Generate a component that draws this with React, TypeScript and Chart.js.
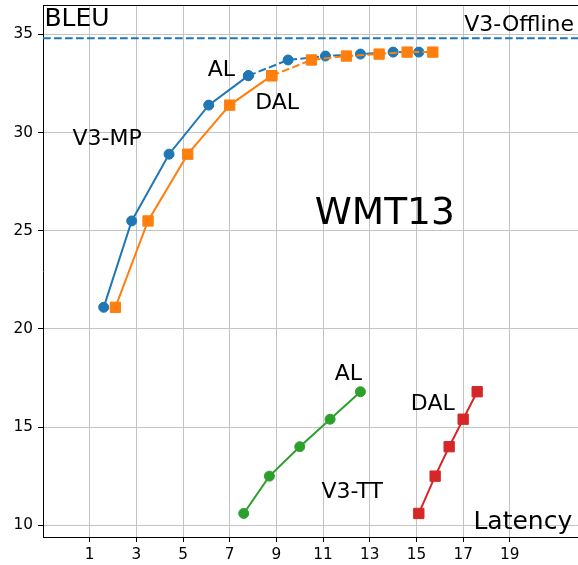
import React, { useEffect, useRef } from 'react';
import { Chart, registerables } from 'chart.js';

Chart.register(...registerables);

// V3-MP (top curves)
const mpAlX = [1.6, 2.8, 4.4, 6.1, 7.8, 9.5, 11.1, 12.6, 14.0, 15.1];
const mpAlY = [21.1, 25.5, 28.9, 31.4, 32.9, 33.7, 33.9, 34.0, 34.1, 34.1];
const mpDalX = [2.1, 3.5, 5.2, 7.0, 8.8, 10.5, 12.0, 13.4, 14.6, 15.7];
const mpDalY = [21.1, 25.5, 28.9, 31.4, 32.9, 33.7, 33.9, 34.0, 34.1, 34.1];
const solidCount = 5; // points drawn with solid line, then dashed

// V3-TT (bottom curves)
const ttAlX = [7.6, 8.7, 10.0, 11.3, 12.6];
const ttAlY = [10.6, 12.5, 14.0, 15.4, 16.8];
const ttDalX = [15.1, 15.8, 16.4, 17.0, 17.6];
const ttDalY = [10.6, 12.5, 14.0, 15.4, 16.8];

// V3-Offline reference
const offlineBleu = 34.8;

// axes
const xTicks = [1, 3, 5, 7, 9, 11, 13, 15, 17, 19];
const yTicks = [10, 15, 20, 25, 30, 35];
const xMin = -1;
const xMax = 21.92;
const yMin = 9.4;
const yMax = 36.5;

// annotations (data coordinates, left/baseline)
const annoText = ['BLEU', 'V3-Offline', 'AL', 'DAL', 'V3-MP', 'WMT13', 'AL', 'DAL', 'V3-TT', 'Latency'];
const annoX = [-0.94, 17.05, 6.06, 8.09, 0.26, 10.64, 11.5, 14.76, 10.93, 17.44];
const annoY = [35.41, 35.17, 32.86, 31.22, 29.35, 25.36, 17.42, 15.89, 11.39, 9.83];
const annoSize = [25, 22, 22, 22, 22, 37.5, 22, 22, 22, 25];

const BLUE = '#1f77b4';
const ORANGE = '#ff7f0e';
const GREEN = '#2ca02c';
const RED = '#d62728';
const FONT = '"DejaVu Sans", sans-serif';

const pts = (xs: number[], ys: number[], from = 0, to = xs.length) =>
  xs.slice(from, to).map((x, i) => ({ x, y: ys[from + i] }));

const DASH = [7.7, 3.3];

export default function App() {
  const ref = useRef<HTMLCanvasElement | null>(null);

  useEffect(() => {
    document.body.style.margin = '0';
    const canvas = ref.current;
    if (!canvas) return;

    const series = (
      data: { x: number; y: number }[],
      color: string,
      style: 'circle' | 'rect',
      dashed: boolean,
      order: number
    ) => ({
      data,
      borderColor: color,
      backgroundColor: color,
      borderWidth: 2,
      borderDash: dashed ? DASH : [],
      pointStyle: style,
      pointRadius: style === 'circle' ? 5 : 7.3,
      pointBorderWidth: 1,
      pointBorderColor: color,
      pointBackgroundColor: color,
      showLine: true,
      tension: 0,
      order,
    });

    const textPlugin = {
      id: 'texts',
      afterDatasetsDraw(chart: any) {
        const { ctx, scales, chartArea } = chart;
        const xs = scales.x;
        const ys = scales.y;
        ctx.save();
        ctx.fillStyle = '#000';
        ctx.textAlign = 'left';
        ctx.textBaseline = 'alphabetic';
        annoText.forEach((t, i) => {
          ctx.font = `${annoSize[i]}px ${FONT}`;
          ctx.fillText(t, xs.getPixelForValue(annoX[i]), ys.getPixelForValue(annoY[i]));
        });
        // top spine
        ctx.strokeStyle = '#000';
        ctx.lineWidth = 1;
        ctx.beginPath();
        ctx.moveTo(chartArea.left, Math.round(chartArea.top) + 0.5);
        ctx.lineTo(chartArea.right, Math.round(chartArea.top) + 0.5);
        ctx.stroke();
        ctx.restore();
      },
    };

    const zeroPad = (axis: any) => {
      axis.paddingTop = 0;
      axis.paddingBottom = 0;
      axis.paddingLeft = 0;
      axis.paddingRight = 0;
    };

    const chart = new Chart(canvas, {
      type: 'scatter',
      data: {
        datasets: [
          {
            ...series([{ x: xMin, y: offlineBleu }, { x: xMax, y: offlineBleu }], BLUE, 'circle', true, 10),
            pointRadius: 0,
          },
          series(pts(mpAlX, mpAlY, 0, solidCount), BLUE, 'circle', false, 4),
          series(pts(mpAlX, mpAlY, solidCount - 1), BLUE, 'circle', true, 4),
          series(pts(mpDalX, mpDalY, 0, solidCount), ORANGE, 'rect', false, 3),
          series(pts(mpDalX, mpDalY, solidCount - 1), ORANGE, 'rect', true, 3),
          series(pts(ttAlX, ttAlY), GREEN, 'circle', false, 2),
          series(pts(ttDalX, ttDalY), RED, 'rect', false, 1),
        ] as any,
      },
      options: {
        responsive: false,
        animation: false,
        devicePixelRatio: 1,
        layout: { autoPadding: false, padding: { top: 5, right: 0, left: 0, bottom: 0 } },
        plugins: {
          legend: { display: false },
          tooltip: { enabled: false },
          title: { display: false },
        },
        scales: {
          x: {
            type: 'linear',
            min: xMin,
            max: xMax,
            afterBuildTicks: (axis: any) => {
              axis.ticks = xTicks.map((v) => ({ value: v }));
            },
            afterFit: (axis: any) => {
              axis.height = 28;
              zeroPad(axis);
            },
            grid: {
              color: '#c4c4c4',
              lineWidth: 1,
              drawTicks: true,
              tickLength: 5,
              tickColor: '#000',
              tickWidth: 1,
            },
            border: { display: true, color: '#000', width: 1 },
            ticks: {
              color: '#000',
              font: { family: FONT, size: 15.3 },
              padding: 4,
              maxRotation: 0,
              autoSkip: false,
            },
          },
          y: {
            type: 'linear',
            min: yMin,
            max: yMax,
            afterBuildTicks: (axis: any) => {
              axis.ticks = yTicks.map((v) => ({ value: v }));
            },
            afterFit: (axis: any) => {
              axis.width = 43;
              zeroPad(axis);
            },
            grid: {
              color: '#c4c4c4',
              lineWidth: 1,
              drawTicks: true,
              tickLength: 5,
              tickColor: '#000',
              tickWidth: 1,
            },
            border: { display: true, color: '#000', width: 1 },
            ticks: {
              color: '#000',
              font: { family: FONT, size: 15.3 },
              padding: 5,
              autoSkip: false,
            },
          },
        },
      } as any,
      plugins: [textPlugin],
    });

    return () => chart.destroy();
  }, []);

  return (
    <canvas
      ref={ref}
      width={578}
      height={565}
      style={{ display: 'block', width: 578, height: 565 }}
    />
  );
}
